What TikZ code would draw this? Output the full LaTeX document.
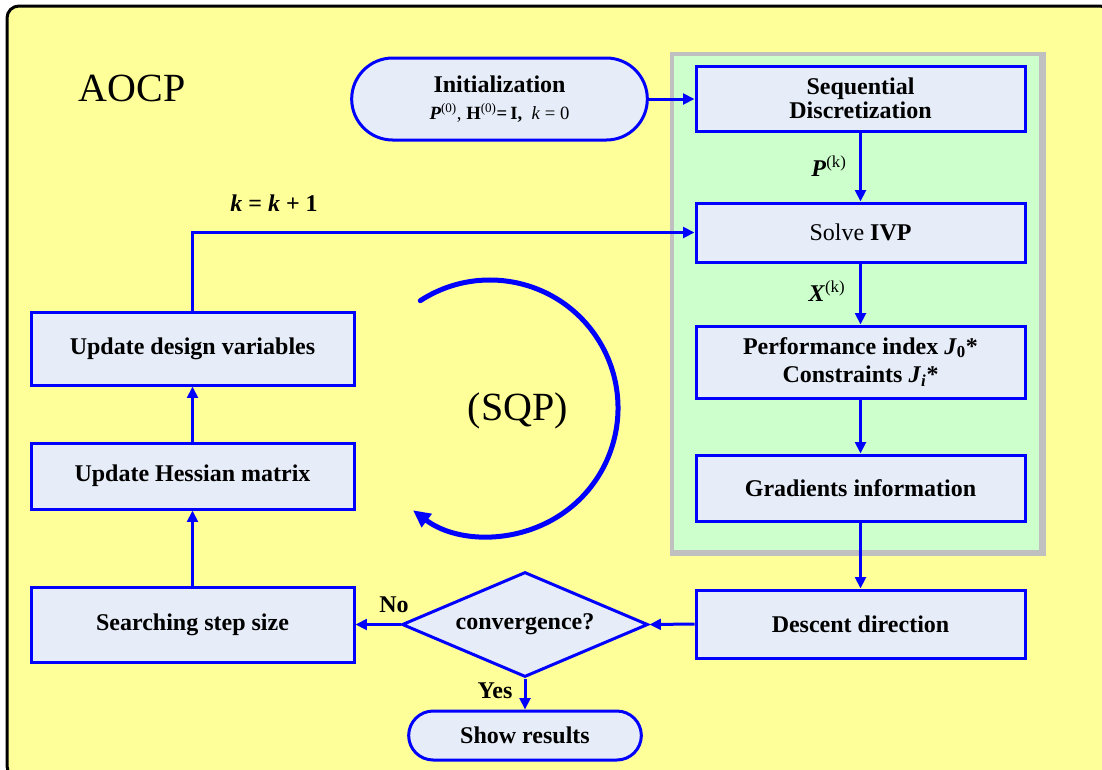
\documentclass[tikz,border=0pt]{standalone}
\usepackage{fontspec}
\setmainfont{Liberation Serif}
\usetikzlibrary{arrows.meta,shapes.geometric,shapes.misc}
\definecolor{bgyellow}{RGB}{255,255,153}
\definecolor{panelgreen}{RGB}{204,255,204}
\definecolor{panelgray}{RGB}{192,192,192}
\definecolor{boxfill}{RGB}{230,236,248}
\definecolor{flowblue}{RGB}{0,0,255}
\tikzset{
  flowbox/.style={draw=flowblue, fill=boxfill, line width=2.25pt, rectangle,
    inner sep=2pt, align=center, font=\fontsize{18}{18}\selectfont\bfseries},
  rightbox/.style={flowbox, minimum width=246.75pt},
  leftbox/.style={flowbox, minimum width=242.25pt},
  terminal/.style={draw=flowblue, fill=boxfill, line width=2.25pt, rounded rectangle,
    inner sep=2pt, align=center, font=\fontsize{18}{18}\selectfont\bfseries},
  decision/.style={draw=flowblue, fill=boxfill, line width=2.25pt, diamond, aspect=2.34,
    inner sep=0pt, minimum width=184.5pt, minimum height=78.75pt,
    font=\fontsize{18}{18}\selectfont\bfseries},
  flow/.style={draw=flowblue, line width=2.25pt, -{Triangle[length=8.5pt,width=8pt]}},
  flowlabel/.style={font=\fontsize{18}{18}\selectfont\bfseries, inner sep=0pt},
  bigtitle/.style={font=\fontsize{30}{30}\selectfont, inner sep=0pt}
}
\begin{document}
\begin{tikzpicture}[x=0.75pt, y=-0.75pt]
\useasboundingbox (0,0) rectangle (1102,769);
% outer frame
\draw[fill=bgyellow, line width=2.25pt, rounded corners=9pt] (7,6) rectangle (1112,778);
% green panel with grey shadow
\fill[panelgray] (670,52) rectangle (1046,556);
\fill[panelgreen] (674,56) rectangle (1039,550);

\node[bigtitle] (aocp) at (132,88) {AOCP};

% nodes
\node[terminal, minimum width=225.75pt, minimum height=61.5pt] (init) at (499.5,99)
  {Initialization\\[2pt]{\fontsize{14}{14}\selectfont\textbf{\textit{P}}\textsuperscript{\mdseries(0)}\mdseries, \textbf{H}\textsuperscript{(0)}\textbf{=\,I,}\ \ \textit{k} = 0}};
\node[rightbox, minimum height=48.75pt] (seq) at (860.5,98.5) {Sequential\\Discretization};
\node[rightbox, minimum height=44.25pt] (ivp) at (860.5,232.5) {\mdseries Solve \textbf{IVP}};
\node[rightbox, minimum height=54pt] (perf) at (860.5,362)
  {Performance index \textit{J}\textsubscript{0}*\\[3.5pt]Constraints \textit{J}\textsubscript{\textit{i}}*};
\node[rightbox, minimum height=49.5pt] (grad) at (860.5,488) {Gradients information};
\node[rightbox, minimum height=51pt] (desc) at (860.5,624) {Descent direction};
\node[decision] (conv) at (525,624.5) {convergence?};
\node[leftbox, minimum height=56.25pt] (search) at (192.5,624.5) {Searching step size};
\node[leftbox, minimum height=49.5pt] (hess) at (192.5,476) {Update Hessian matrix};
\node[leftbox, minimum height=54.75pt] (upd) at (192.5,348.5) {Update design variables};
\node[terminal, minimum width=178.5pt, minimum height=36.75pt] (show) at (525,735.5) {Show results};

% connectors
\draw[flow] (init.east) -- (init.east -| seq.west);
\draw[flow] (seq) -- (ivp);
\draw[flow] (ivp) -- (perf);
\draw[flow] (perf) -- (grad);
\draw[flow] (grad) -- (desc);
\draw[flow] (desc.west) -- (conv.east);
\draw[flow] (conv.west) -- (search.east);
\draw[flow] (conv.south) -- (show.north);
\draw[flow] (search) -- (hess);
\draw[flow] (hess) -- (upd);
\draw[flow] (upd.north) |- (ivp.west);

% connector labels
\node[flowlabel] (lp) at (829,166) {\textit{P}\textsuperscript{\mdseries(k)}};
\node[flowlabel] (lx) at (827,291) {\textit{X}\textsuperscript{\mdseries(k)}};
\node[flowlabel] (lk) at (274,203) {\textit{k} = \textit{k} + 1};
\node[flowlabel] (lno) at (394,605) {No};
\node[flowlabel] (lyes) at (495,691) {Yes};

% SQP iteration loop
\node[bigtitle] (sqp) at (518,411) {(SQP)};
\draw[draw=flowblue, line width=3.75pt, line cap=round, -{Triangle[length=13pt,width=12pt]}]
  (490,408) ++(-123:128) arc[start angle=-123, end angle=127, radius=128];
\end{tikzpicture}
\end{document}
